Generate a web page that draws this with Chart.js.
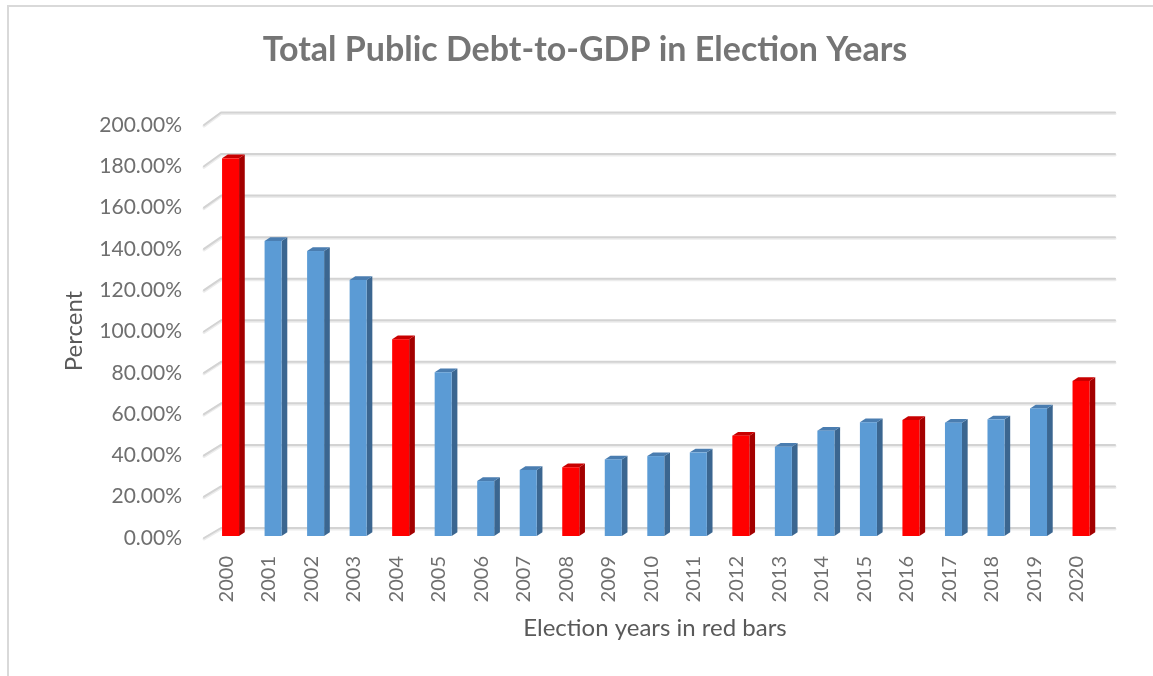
<!DOCTYPE html>
<html>
<head>
<meta charset="utf-8">
<script src="https://cdn.jsdelivr.net/npm/chart.js@4.4.1/dist/chart.umd.min.js"></script>
<style>
  html, body { margin: 0; padding: 0; background: #ffffff; }
  #wrap { width: 1153px; height: 676px; position: relative; }
</style>
</head>
<body>
<div id="wrap"><canvas id="c" width="1153" height="676"></canvas></div>
<script>
// ---- data ----
const years = ['2000','2001','2002','2003','2004','2005','2006','2007','2008','2009','2010',
               '2011','2012','2013','2014','2015','2016','2017','2018','2019','2020'];
const debtToGdp = [182.9, 142.9, 138.0, 124.0, 95.3, 79.3, 26.6, 32.0, 33.3, 37.1, 38.7,
                   40.5, 48.6, 43.2, 51.0, 55.1, 56.2, 54.9, 56.5, 61.8, 75.1];
const electionYears = ['2000','2004','2008','2012','2016','2020'];
const yTicks = [0, 20, 40, 60, 80, 100, 120, 140, 160, 180, 200];
const titleText = 'Total Public Debt-to-GDP in Election Years';
const yTitle = 'Percent';
const xTitle = 'Election years in red bars';

const RED = { front: '#ff0000', side: '#a30000', top: '#c80000' };
const BLUE = { front: '#5b9bd5', side: '#3b6690', top: '#4a7db0' };
const FONT = 'Lato, "Open Sans", "Liberation Sans", sans-serif';

const frameAndTitles = {
  id: 'frameAndTitles',
  beforeDraw(chart) {
    const ctx = chart.ctx;
    ctx.save();
    ctx.fillStyle = '#ffffff';
    ctx.fillRect(0, 0, chart.width, chart.height);
    ctx.strokeStyle = '#d9d9d9';
    ctx.lineWidth = 2;
    ctx.beginPath();
    ctx.moveTo(8, chart.height + 2);
    ctx.lineTo(8, 6);
    ctx.lineTo(chart.width + 2, 6);
    ctx.stroke();
    ctx.restore();
  },
  afterDraw(chart) {
    const ctx = chart.ctx;
    ctx.save();
    ctx.fillStyle = '#757575';
    ctx.font = 'bold 34px ' + FONT;
    ctx.textAlign = 'center';
    ctx.textBaseline = 'middle';
    ctx.fillText(titleText, 585, 50);

    ctx.fillStyle = '#595959';
    ctx.font = '24px ' + FONT;
    ctx.fillText(xTitle, 655, 628);

    ctx.translate(74, 331);
    ctx.rotate(-Math.PI / 2);
    ctx.fillText(yTitle, 0, 0);
    ctx.restore();
  }
};

const grid3d = {
  id: 'grid3d',
  beforeDatasetsDraw(chart) {
    const ctx = chart.ctx;
    const ys = chart.scales.y;
    const area = chart.chartArea;
    ctx.save();
    ys.ticks.forEach(t => {
      const v = t.value;
      const yF = ys.getPixelForValue(v);
      const dy = -10 - 2.5 * (v / 200);
      const dx = 17;
      const x0 = area.left - 1;
      const pts = [[x0, yF], [x0 + dx, yF + dy], [area.right + dx, yF + dy]];
      ctx.lineJoin = 'round';
      ctx.lineCap = 'round';
      ctx.strokeStyle = '#ececec';
      ctx.lineWidth = 3;
      ctx.beginPath();
      ctx.moveTo(pts[0][0], pts[0][1] + 1);
      ctx.lineTo(pts[1][0], pts[1][1] + 1);
      ctx.lineTo(pts[2][0], pts[2][1] + 1);
      ctx.stroke();
      ctx.strokeStyle = '#d3d3d3';
      ctx.lineWidth = 2;
      ctx.beginPath();
      ctx.moveTo(pts[0][0], pts[0][1]);
      ctx.lineTo(pts[1][0], pts[1][1]);
      ctx.lineTo(pts[2][0], pts[2][1]);
      ctx.stroke();
    });
    ctx.restore();
  },
  beforeDatasetDraw() {
    return false;
  },
  afterDatasetsDraw(chart) {
    const ctx = chart.ctx;
    const meta = chart.getDatasetMeta(0);
    ctx.save();
    meta.data.forEach((el, i) => {
      const p = el.getProps(['x', 'y', 'base', 'width'], true);
      const c = electionYears.includes(years[i]) ? RED : BLUE;
      const shiftX = 4.3, shiftY = -2;
      const ddx = 5.7, ddy = -3.7;
      const x0 = p.x - p.width / 2 + shiftX;
      const x1 = x0 + p.width;
      const top = p.y + shiftY;
      const bot = p.base + shiftY;
      ctx.fillStyle = c.side;
      ctx.beginPath();
      ctx.moveTo(x1, top);
      ctx.lineTo(x1 + ddx, top + ddy);
      ctx.lineTo(x1 + ddx, bot + ddy);
      ctx.lineTo(x1, bot);
      ctx.closePath();
      ctx.fill();
      ctx.fillStyle = c.top;
      ctx.beginPath();
      ctx.moveTo(x0, top);
      ctx.lineTo(x0 + ddx, top + ddy);
      ctx.lineTo(x1 + ddx, top + ddy);
      ctx.lineTo(x1, top);
      ctx.closePath();
      ctx.fill();
      ctx.fillStyle = c.front;
      ctx.fillRect(x0, top, p.width, bot - top);
    });
    ctx.restore();
  }
};

new Chart(document.getElementById('c'), {
  type: 'bar',
  data: {
    labels: years,
    datasets: [{
      label: 'Debt-to-GDP',
      data: debtToGdp,
      backgroundColor: years.map(y => electionYears.includes(y) ? RED.front : BLUE.front),
      barPercentage: 1.0,
      categoryPercentage: 0.4
    }]
  },
  options: {
    responsive: false,
    animation: false,
    devicePixelRatio: 1,
    layout: { padding: { left: 0, right: 55, top: 125, bottom: 0 } },
    plugins: {
      legend: { display: false },
      title: { display: false },
      tooltip: { enabled: false }
    },
    scales: {
      x: {
        type: 'category',
        grid: { display: false, drawTicks: false },
        border: { display: false },
        ticks: {
          autoSkip: false,
          minRotation: 90,
          maxRotation: 90,
          padding: 18,
          color: '#6f6f6f',
          font: { family: FONT, size: 20 }
        },
        afterFit(scale) { scale.height = 138; }
      },
      y: {
        min: 0,
        max: 200,
        afterBuildTicks(scale) { scale.ticks = yTicks.map(v => ({ value: v })); },
        grid: { display: false, drawTicks: false },
        border: { display: false },
        ticks: {
          padding: 23,
          color: '#6f6f6f',
          font: { family: FONT, size: 21 },
          callback: v => v.toFixed(2) + '%'
        },
        afterFit(scale) { scale.width = 205; }
      }
    }
  },
  plugins: [frameAndTitles, grid3d]
});
</script>
</body>
</html>
